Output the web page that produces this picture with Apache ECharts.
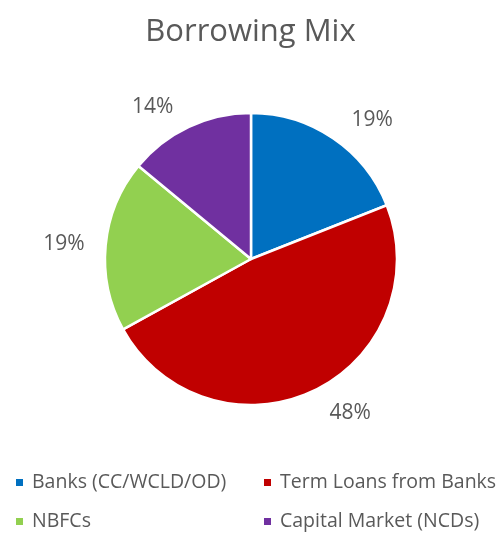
<!DOCTYPE html>
<html>
<head>
<meta charset="utf-8">
<script src="https://cdn.jsdelivr.net/npm/echarts@6/dist/echarts.min.js"></script>
<style>
html,body{margin:0;padding:0;background:#fff;}
#chart{width:501px;height:538px;}
</style>
</head>
<body>
<div id="chart"></div>
<script>
const categories = ['Banks (CC/WCLD/OD)', 'Term Loans from Banks', 'NBFCs', 'Capital Market (NCDs)'];
const shares = [19, 48, 19, 14];
const colors = ['#0070C0', '#C00000', '#92D050', '#7030A0'];
const titleText = 'Borrowing Mix';

const chart = echarts.init(document.getElementById('chart'), null, {renderer: 'canvas'});
const fontFamily = '"Open Sans", sans-serif';
const labelLens = [22, 24, 15, 22];
const legendCommon = {
  orient: 'vertical',
  icon: 'rect',
  itemWidth: 9,
  itemHeight: 9,
  itemGap: 18,
  textStyle: {color: '#595959', fontSize: 19.5, fontFamily: fontFamily, lineHeight: 21, padding: [0, 0, 0, 3]},
  padding: 0
};
chart.setOption({
  backgroundColor: '#ffffff',
  animation: false,
  title: {
    text: titleText,
    left: 'center',
    top: 12,
    textStyle: {color: '#595959', fontSize: 31, fontWeight: 'normal', fontFamily: fontFamily}
  },
  legend: [
    Object.assign({}, legendCommon, {left: 14, top: 472, data: [categories[0], categories[2]]}),
    Object.assign({}, legendCommon, {left: 262, top: 472, data: [categories[1], categories[3]]})
  ],
  series: [{
    type: 'pie',
    center: [251, 259],
    radius: [0, 146],
    startAngle: 90,
    clockwise: true,
    avoidLabelOverlap: false,
    data: categories.map((c, i) => ({
      name: c, value: shares[i], itemStyle: {color: colors[i]},
      labelLine: {show: false, length: labelLens[i], length2: 1}
    })),
    itemStyle: {borderColor: '#ffffff', borderWidth: 2.5},
    label: {
      show: true,
      position: 'outside',
      formatter: p => p.value + '%',
      color: '#595959',
      fontSize: 21,
      fontFamily: fontFamily,
      distanceToLabelLine: 5
    },
    labelLine: {show: false, length: 24, length2: 1},
    emphasis: {disabled: true}
  }]
});
</script>
</body>
</html>
